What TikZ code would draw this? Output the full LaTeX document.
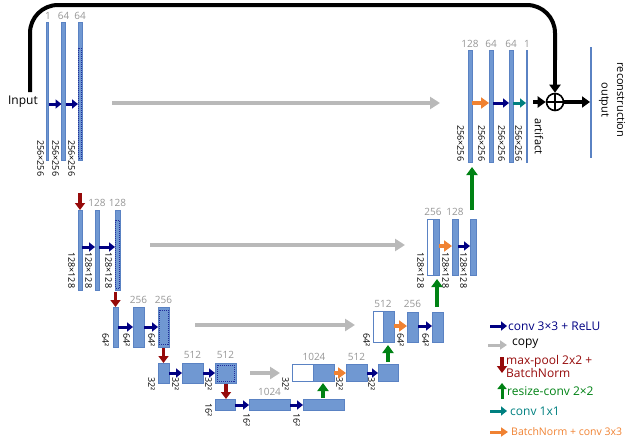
\documentclass[tikz,border=0pt]{standalone}
\usepackage{fontspec}
\setmainfont{Open Sans}
\usetikzlibrary{arrows.meta,calc}
\definecolor{barblue}{RGB}{112,152,210}
\definecolor{barline}{RGB}{90,130,195}
\definecolor{cnv}{RGB}{0,0,130}
\definecolor{cpy}{RGB}{185,185,185}
\definecolor{pool}{RGB}{150,10,10}
\definecolor{up}{RGB}{0,130,20}
\definecolor{tl}{RGB}{0,128,128}
\definecolor{bn}{RGB}{240,130,50}
\definecolor{chg}{RGB}{150,150,150}
\newcommand\ubar[6][]{\node[barsty,#1,anchor=north west,minimum width={(#4-#2)*1pt},minimum height={(#5-#3)*1pt}] (#6) at (#2,#3) {};}
\newcommand\szl[3]{\node[sz] at (#1-3,#2) {#3};}
\tikzset{
 barsty/.style={fill=barblue,draw=barline,line width=0.4pt,inner sep=0pt,outer sep=0pt},
 whitesty/.style={fill=white,draw=barline},
 dsh/.style={draw=cnv!70!barblue,densely dotted,line width=1pt},
 arr/.style={line width=3pt,-{Triangle[length=6pt,width=9pt]}},
 conv/.style={arr,cnv},
 copyarr/.style={line width=4.5pt,cpy,-{Triangle[length=10pt,width=12pt]}},
 poolarr/.style={line width=3.2pt,pool,-{Triangle[length=7pt,width=10pt]}},
 uparr/.style={line width=3.5pt,up,-{Triangle[length=8pt,width=11pt]}},
 tealarr/.style={arr,tl},
 bnarr/.style={line width=3.5pt,bn,-{Triangle[length=8pt,width=11pt]}},
 blk/.style={line width=3.5pt,black,-{Triangle[length=8pt,width=11pt]}},
 ch/.style={text=chg,font=\fontsize{10}{10}\selectfont,inner sep=0pt,anchor=south},
 sz/.style={rotate=-90,anchor=north west,font=\fontsize{9}{9}\selectfont,inner sep=0pt},
 lg/.style={anchor=west,font=\fontsize{12}{13}\selectfont,inner sep=0pt,align=left},
}
\begin{document}
\begin{tikzpicture}[x=1pt,y=-1pt]
\useasboundingbox (0,0) rectangle (640,439);
% ---------- level 1 ----------
\ubar{46.5}{22}{48.5}{160}{in1}
\ubar{61.5}{22}{65.5}{160}{c1a}
\ubar{78}{22}{82}{160}{c1b}
\draw[dsh] (78.6,48) rectangle (81.4,158);
\node[ch] at (48,20) {1};\node[ch] at (63.5,20) {64};\node[ch] at (80,20) {64};
\szl{47}{140}{256×256}\szl{62}{140}{256×256}\szl{78}{140}{256×256}
\node[anchor=east,font=\fontsize{12}{12}\selectfont,inner sep=0pt] (inp) at (38,102) {Input};
\coordinate (r1) at (0,104);
\draw[conv] (in1.east|-r1) -- (c1a.west|-r1);
\draw[conv] (c1a.east|-r1) -- (c1b.west|-r1);
\coordinate (cp1s) at (112,103);\coordinate (cp1e) at (440,103);
\draw[copyarr] (cp1s) -- (cp1e);
% decoder level 1
\ubar{468}{50}{472}{162}{d1a}
\ubar{489}{50}{493}{162}{d1b}
\ubar{509}{50}{513}{162}{d1c}
\ubar{526}{50}{527.5}{162}{d1d}
\node[ch] at (470,48) {128};\node[ch] at (491,48) {64};\node[ch] at (511,48) {64};\node[ch] at (527,48) {1};
\szl{467}{125}{256×256}\szl{488}{125}{256×256}\szl{508}{125}{256×256}\szl{525}{125}{256×256}
\coordinate (r1d) at (0,103);
\draw[bnarr] (d1a.east|-r1d) -- (d1b.west|-r1d);
\draw[conv] (d1b.east|-r1d) -- (d1c.west|-r1d);
\draw[tealarr] (d1c.east|-r1d) -- (d1d.west|-r1d);
\node[draw,circle,line width=1.6pt,minimum size=17pt,inner sep=0pt] (plus) at (555,102) {};
\draw[line width=1.6pt] (plus.north) -- (plus.south) (plus.west) -- (plus.east);
\draw[blk] (533,102) -- (plus.west);
\ubar[fill=none]{590}{47}{590.8}{157}{outl}
\draw[blk] (plus.east) -- (outl.west|-plus);
\draw[line width=4pt,rounded corners=28pt] (30,92) -- (30,5) -- (555,5) -- (555,60);
\draw[blk] (555,58) -- (plus.north);
\node[rotate=-90,font=\fontsize{11}{11}\selectfont,inner sep=0pt] at (621,100) {reconstruction};
\node[rotate=-90,font=\fontsize{11}{11}\selectfont,inner sep=0pt] at (604,100) {output};
\node[rotate=-90,anchor=west,font=\fontsize{11}{11}\selectfont,inner sep=0pt] at (539,118) {artifact};
% ---------- level 2 ----------
\ubar{78}{210}{82}{290}{c2a}
\ubar{95}{210}{99}{290}{c2b}
\ubar{115}{210}{120}{290}{c2c}
\draw[dsh] (115.6,220) rectangle (119.4,288);
\node[ch] at (97,207) {128};\node[ch] at (117.5,207) {128};
\szl{78}{252}{128×128}\szl{95}{252}{128×128}\szl{115}{252}{128×128}
\coordinate (r2) at (0,247);
\draw[conv] (c2a.east|-r2) -- (c2b.west|-r2);
\draw[conv] (c2b.east|-r2) -- (c2c.west|-r2);
\draw[poolarr] ($(c2a.north)+(0,-17)$) -- (c2a.north);
\coordinate (cp2s) at (150,245);\coordinate (cp2e) at (405,245);
\draw[copyarr] (cp2s) -- (cp2e);
\ubar[whitesty]{427}{219}{433}{275}{d2w}
\ubar{433}{219}{439}{275}{d2a}
\ubar{452}{219}{458}{275}{d2b}
\ubar{470}{219}{476}{275}{d2c}
\node[ch] at (433,216) {256};\node[ch] at (455,216) {128};
\szl{427}{252}{128×128}\szl{452}{252}{128×128}\szl{470}{252}{128×128}
\coordinate (r2d) at (0,246);
\draw[bnarr] (d2a.east|-r2d) -- (d2b.west|-r2d);
\draw[conv] (d2b.east|-r2d) -- (d2c.west|-r2d);
\coordinate (g1s) at (472,210);\coordinate (g1e) at (472,167);
\draw[uparr] (g1s) -- (g1e);
% ---------- level 3 ----------
\ubar{113}{307}{118}{347}{c3a}
\ubar{133}{307}{144}{347}{c3b}
\ubar{158}{307}{169}{347}{c3c}
\draw[dsh] (159,310) rectangle (168,344);
\node[ch] at (138.5,304) {256};\node[ch] at (163.5,304) {256};
\szl{112}{333}{64²}\szl{133}{333}{64²}\szl{158}{333}{64²}
\coordinate (r3) at (0,327);
\draw[conv] (c3a.east|-r3) -- (c3b.west|-r3);
\draw[conv] (c3b.east|-r3) -- (c3c.west|-r3);
\draw[poolarr] ($(c3a.north)+(0,-15)$) -- (c3a.north);
\coordinate (cp3s) at (195,325);\coordinate (cp3e) at (355,325);
\draw[copyarr] (cp3s) -- (cp3e);
\ubar[whitesty]{373}{311}{383}{342}{d3w}
\ubar{383}{311}{394}{342}{d3a}
\ubar{407}{312}{418}{342}{d3b}
\ubar{432}{312}{443}{342}{d3c}
\node[ch] at (383,308) {512};\node[ch] at (412.5,308) {256};
\szl{373}{333}{64²}\szl{407}{333}{64²}\szl{432}{333}{64²}
\coordinate (r3d) at (0,326);
\draw[bnarr] (d3a.east|-r3d) -- (d3b.west|-r3d);
\draw[conv] (d3b.east|-r3d) -- (d3c.west|-r3d);
\coordinate (g2s) at (437,307);\coordinate (g2e) at (437,279);
\draw[uparr] (g2s) -- (g2e);
% ---------- level 4 ----------
\ubar{158}{363}{169}{383}{c4a}
\ubar{182}{363}{203}{383}{c4b}
\ubar{215}{363}{236}{383}{c4c}
\draw[dsh] (217,365) rectangle (234,381);
\node[ch] at (192.5,359) {512};\node[ch] at (225.5,359) {512};
\szl{158}{377}{32²}\szl{182}{377}{32²}\szl{215}{377}{32²}
\coordinate (r4) at (0,373);
\draw[conv] (c4a.east|-r4) -- (c4b.west|-r4);
\draw[conv] (c4b.east|-r4) -- (c4c.west|-r4);
\draw[poolarr] ($(c4a.north)+(0,-15)$) -- (c4a.north);
\coordinate (cp4s) at (250,373);\coordinate (cp4e) at (280,373);
\draw[copyarr] (cp4s) -- (cp4e);
\ubar[whitesty]{292}{364}{313}{381}{d4w}
\ubar{313}{364}{334}{381}{d4a}
\ubar{346}{364}{367}{381}{d4b}
\ubar{378}{364}{398}{381}{d4c}
\node[ch] at (314,361) {1024};\node[ch] at (356.5,361) {512};
\szl{292}{377}{32²}\szl{346}{377}{32²}\szl{378}{377}{32²}
\coordinate (r4d) at (0,373);
\draw[bnarr] (d4a.east|-r4d) -- (d4b.west|-r4d);
\draw[conv] (d4b.east|-r4d) -- (d4c.west|-r4d);
\coordinate (g3s) at (388,362);\coordinate (g3e) at (388,345);
\draw[uparr] (g3s) -- (g3e);
% ---------- level 5 ----------
\ubar{215}{399}{235}{410}{c5a}
\ubar{249}{399}{290}{410}{c5b}
\ubar{303}{399}{344}{410}{c5c}
\node[ch] at (269.5,396) {1024};
\szl{215}{403}{16²}\szl{253}{413}{16²}\szl{303}{413}{16²}
\coordinate (r5) at (0,405);
\draw[conv] (c5a.east|-r5) -- (c5b.west|-r5);
\draw[conv] (c5b.east|-r5) -- (c5c.west|-r5);
\draw[poolarr] ($(c5a.north)+(1,-15)$) -- ($(c5a.north)+(1,0)$);
\coordinate (g4s) at (323,398);\coordinate (g4e) at (323,383);
\draw[uparr] (g4s) -- (g4e);
% ---------- legend ----------
\coordinate (l1) at (490,326);\coordinate (l1e) at (507,326);
\draw[conv] (l1) -- (l1e); \node[lg,text=cnv] at (508,326) {conv 3×3 + ReLU};
\coordinate (l2) at (488,345);\coordinate (l2e) at (507,345);
\draw[line width=3pt,cpy,-{Triangle[length=7pt,width=9pt]}] (l2) -- (l2e); \node[lg] at (512,344) {copy};
\coordinate (l3) at (502,357);\coordinate (l3e) at (502,373);
\draw[poolarr] (l3) -- (l3e); \node[lg,text=pool,align=left] at (506,366) {max-pool 2x2 +\\BatchNorm};
\coordinate (l4) at (502,399);\coordinate (l4e) at (502,383);
\draw[line width=3pt,up,-{Triangle[length=6pt,width=9pt]}] (l4) -- (l4e); \node[lg,text=up] at (507,391) {resize-conv 2×2};
\coordinate (l5) at (490,411);\coordinate (l5e) at (507,411);
\draw[tealarr] (l5) -- (l5e); \node[lg,text=tl] at (510,411) {conv 1x1};
\coordinate (l6) at (490,432);\coordinate (l6e) at (508,432);
\draw[line width=3pt,bn,-{Triangle[length=7pt,width=9pt]}] (l6) -- (l6e); \node[lg,text=bn,font=\fontsize{10.5}{11}\selectfont] at (511,432) {BatchNorm + conv 3x3};
\end{tikzpicture}
\end{document}
